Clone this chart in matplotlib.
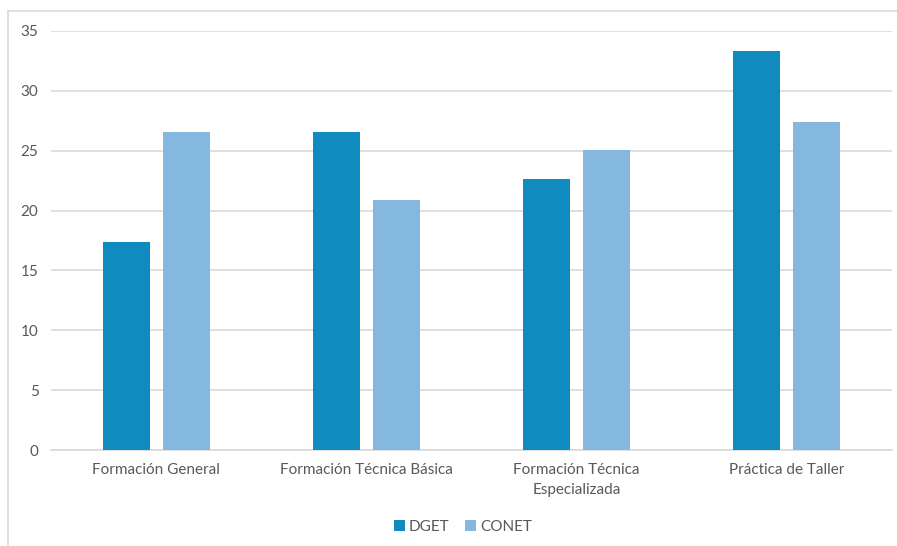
import numpy as np
import matplotlib
matplotlib.use('Agg')
import matplotlib.pyplot as plt
from matplotlib.lines import Line2D

categories = ['Formación General', 'Formación Técnica Básica',
              'Formación Técnica\nEspecializada', 'Práctica de Taller']
dget = [17.4, 26.6, 22.6, 33.3]
conet = [26.6, 20.9, 25.05, 27.4]
yticks = [0, 5, 10, 15, 20, 25, 30, 35]

plt.rcParams['font.family'] = ['Lato', 'DejaVu Sans']
txt = '#595959'
grid = '#D9D9D9'

fig = plt.figure(figsize=(8.97, 5.46), dpi=100)
ax = fig.add_axes([51/897, 1-450/546, 841/897, 419/546])

x = np.arange(len(categories))
w = 0.224
off = 0.143
ax.bar(x - off, dget, w, color='#108BBF', label='DGET', zorder=3)
ax.bar(x + off, conet, w, color='#85B8DF', label='CONET', zorder=3)

ax.set_xlim(-0.5, len(categories) - 0.5)
ax.set_ylim(0, 35)
ax.set_yticks(yticks)
ax.set_xticks(x)
ax.set_xticklabels(categories, fontsize=11, color=txt, linespacing=1.55)
ax.tick_params(axis='y', labelsize=11, labelcolor=txt, length=0, pad=9)
ax.tick_params(axis='x', length=0, pad=9)
ax.yaxis.grid(True, color=grid, linewidth=1.2, zorder=0)
for s in ['top', 'right', 'left']:
    ax.spines[s].set_visible(False)
ax.spines['bottom'].set_color(grid)
ax.spines['bottom'].set_linewidth(1.2)

fig.legend(loc='center', bbox_to_anchor=(463/897, 1-527/546), ncol=2,
           frameon=False, fontsize=11, labelcolor=txt, handlelength=0.7,
           handleheight=0.7, handletextpad=0.3, columnspacing=1.0)

# outer chart frame (only left and top visible in the crop)
fig.add_artist(Line2D([8/897, 8/897], [0, 1-11/546], transform=fig.transFigure,
                      color=grid, linewidth=1.2))
fig.add_artist(Line2D([8/897, 1], [1-11/546, 1-11/546], transform=fig.transFigure,
                      color=grid, linewidth=1.2))

fig.savefig('out.png', dpi=100)
